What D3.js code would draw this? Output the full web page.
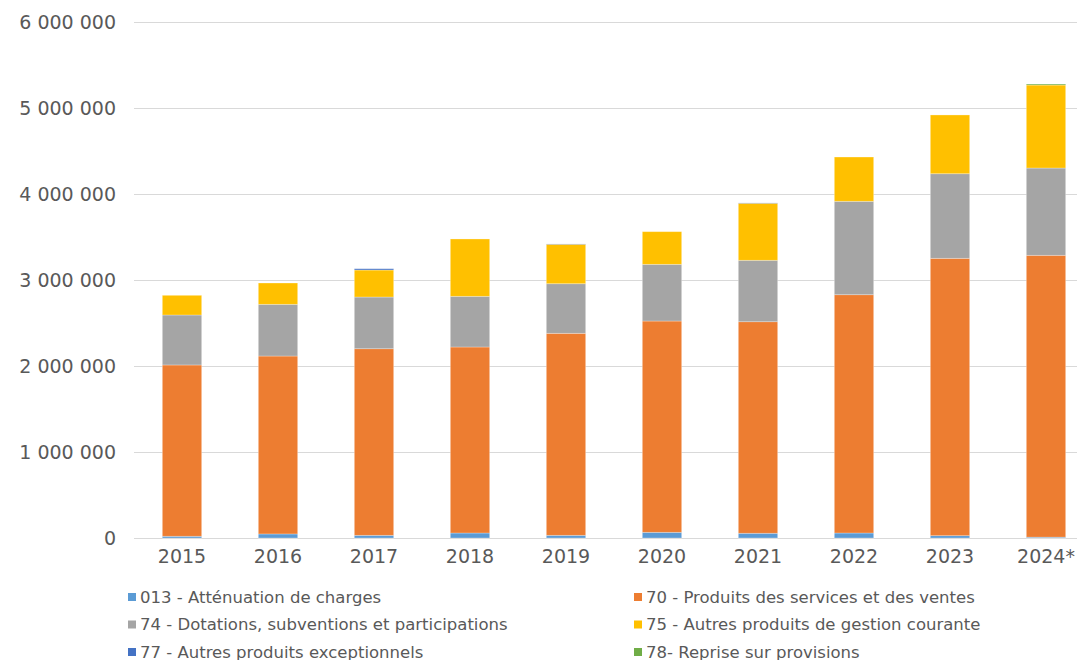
<!DOCTYPE html>
<html>
<head>
<meta charset="utf-8">
<script src="https://cdn.jsdelivr.net/npm/d3@7"></script>
<style>
  body { margin: 0; background: #fff; }
  svg { display: block; font-family: "DejaVu Sans", Verdana, sans-serif; }
</style>
</head>
<body>
<svg id="chart" width="1077" height="660"></svg>
<script>
// années
var years = ["2015", "2016", "2017", "2018", "2019", "2020", "2021", "2022", "2023", "2024*"];
// séries (euros)
var attenuationCharges = [20000, 47000, 31000, 58000, 31000, 66000, 55000, 58000, 27000, 10000];
var produitsServices   = [1992000, 2069000, 2170000, 2163000, 2349000, 2457000, 2460000, 2771000, 3225000, 3277000];
var dotations          = [581000, 601000, 601000, 589000, 577000, 659000, 714000, 1086000, 984000, 1015000];
var autresGestion      = [229000, 248000, 314000, 667000, 458000, 380000, 663000, 515000, 683000, 965000];
var exceptionnels      = [0, 0, 15000, 0, 4000, 0, 4000, 0, 0, 0];
var reprises           = [0, 0, 0, 0, 0, 0, 0, 0, 0, 12000];
var yTicks = [0, 1000000, 2000000, 3000000, 4000000, 5000000, 6000000];

var series = [
	{key: "c013", label: "013 - Atténuation de charges", values: attenuationCharges, color: "#5B9BD5"},
	{key: "c70", label: "70 - Produits des services et des ventes", values: produitsServices, color: "#ED7D31"},
	{key: "c74", label: "74 - Dotations, subventions et participations", values: dotations, color: "#A5A5A5"},
	{key: "c75", label: "75 - Autres produits de gestion courante", values: autresGestion, color: "#FFC000"},
	{key: "c77", label: "77 - Autres produits exceptionnels", values: exceptionnels, color: "#4472C4"},
	{key: "c78", label: "78- Reprise sur provisions", values: reprises, color: "#70AD47"}
];

var svg = d3.select("#chart");
var textColor = "#595959";

// table pour d3.stack
var rows = years.map(function(y, i) {
	var r = {year: y};
	series.forEach(function(s) { r[s.key] = s.values[i]; });
	return r;
});

var x = d3.scaleBand().domain(years).range([134, 1094]).paddingInner(0.59).paddingOuter(0.295);
var y = d3.scaleLinear().domain([0, 6000000]).range([538, 22]);

var fmt = function(v) { return d3.format(",")(v).replace(/,/g, " "); };

// grille
svg.append("g").attr("class", "grid")
	.selectAll("line").data(yTicks).enter().append("line")
	.attr("x1", 134).attr("x2", 1094)
	.attr("y1", d => y(d) + 0.5).attr("y2", d => y(d) + 0.5)
	.attr("stroke", "#d9d9d9").attr("stroke-width", 1);

// axe y (labels seulement)
var yAxis = d3.axisLeft(y).tickValues(yTicks).tickFormat(fmt).tickSize(0).tickPadding(0);
svg.append("g").attr("transform", "translate(116,0)").call(yAxis)
	.call(g => g.select(".domain").remove())
	.selectAll("text")
	.attr("fill", textColor).attr("font-size", "19px")
	.attr("font-family", "DejaVu Sans, Verdana, sans-serif");

// barres empilées
var stack = d3.stack().keys(series.map(s => s.key));
var stacked = stack(rows);
var layers = svg.append("g").attr("class", "bars")
	.selectAll("g").data(stacked).enter().append("g")
	.attr("fill", (d, i) => series[i].color);
layers.selectAll("rect").data(d => d).enter().append("rect")
	.attr("x", d => x(d.data.year))
	.attr("width", x.bandwidth())
	.attr("y", d => y(d[1]))
	.attr("height", d => Math.max(0, y(d[0]) - y(d[1])))
	.attr("stroke", "rgba(255,255,255,0.35)")
	.attr("stroke-width", 0.8);

// axe x
var xAxis = d3.axisBottom(x).tickSize(0).tickPadding(0);
svg.append("g").attr("transform", "translate(0,549)").call(xAxis)
	.call(g => g.select(".domain").remove())
	.selectAll("text")
	.attr("fill", textColor).attr("font-size", "19px").attr("dy", "0.71em")
	.attr("font-family", "DejaVu Sans, Verdana, sans-serif");

// légende
var legend = svg.append("g").attr("class", "legend")
	.selectAll("g").data(series).enter().append("g")
	.attr("transform", (d, i) => "translate(" + (i % 2 == 0 ? 128 : 634) + "," + (597 + Math.floor(i / 2) * 27.5) + ")");
legend.append("rect")
	.attr("x", 0).attr("y", -4).attr("width", 8).attr("height", 8)
	.attr("fill", d => d.color);
legend.append("text")
	.attr("x", 12).attr("y", 0).attr("dy", "0.36em")
	.attr("fill", textColor).attr("font-size", "16.5px")
	.text(d => d.label);
</script>
</body>
</html>
